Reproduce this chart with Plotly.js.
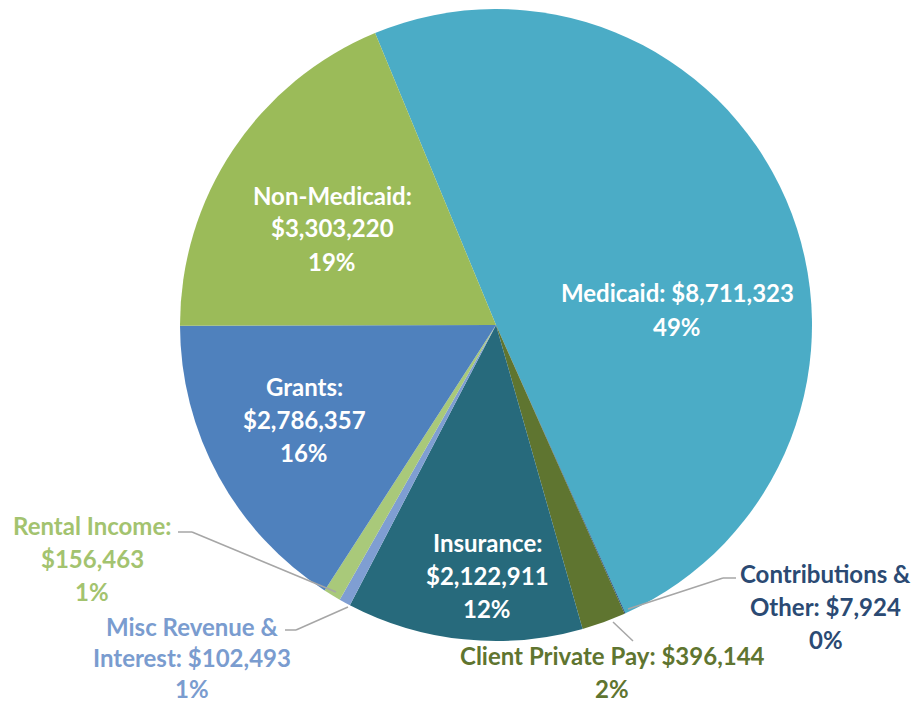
<!DOCTYPE html>
<html>
<head>
<meta charset="utf-8">
<script src="https://cdn.plot.ly/plotly-3.0.1.min.js"></script>
<style>html,body{margin:0;padding:0;background:#fff;}#chart{width:914px;height:705px;}</style>
</head>
<body>
<div id="chart"></div>
<script>
// ---- data ----
const categories = ['Medicaid', 'Contributions & Other', 'Client Private Pay', 'Insurance',
                    'Misc Revenue & Interest', 'Rental Income', 'Grants', 'Non-Medicaid'];
const values = [8711323, 7924, 396144, 2122911, 102493, 156463, 2786357, 3303220];
const percentLabels = ['49%', '0%', '2%', '12%', '1%', '1%', '16%', '19%'];

// ---- style ----
const sliceColors = ['#4BACC6', '#1F497D', '#5F7530', '#276A7C', '#7F9ED2', '#A9C97A', '#4F81BD', '#9BBB59'];
const textColors  = ['#FFFFFF', '#2B4A73', '#5F7530', '#FFFFFF', '#7A9CCF', '#A3C36F', '#FFFFFF', '#FFFFFF'];
// label line layout: 0 = "name: value" on one line, 1 = name and value on separate lines, 2 = break after "&"
const wrapMode = [0, 2, 0, 1, 2, 1, 1, 1];
// pixel centre of the first line of each label, and line spacing
const labelAnchor = [[677, 293], [826, 573], [612, 656], [487, 542], [192, 626], [92, 525], [304, 386], [332, 195]];
const labelGap = [33, 33, 32, 33, 31, 33, 33, 33];

const fmt = v => '$' + v.toLocaleString('en-US');
function lines(i) {
  const name = categories[i], val = fmt(values[i]);
  if (wrapMode[i] === 0) return [name + ': ' + val, percentLabels[i]];
  if (wrapMode[i] === 1) return [name + ':', val, percentLabels[i]];
  const k = name.indexOf('&') + 1;
  return [name.slice(0, k), name.slice(k).trim() + ': ' + val, percentLabels[i]];
}

const L = 180, T = 9, S = 632;
const px = x => (x - L) / S;
const py = y => (T + S - y) / S;

const annotations = [];
categories.forEach((c, i) => {
  lines(i).forEach((t, j) => {
    annotations.push({
      xref: 'paper', yref: 'paper',
      x: px(labelAnchor[i][0]), y: py(labelAnchor[i][1] + j * labelGap[i]),
      xanchor: 'center', yanchor: 'middle', borderpad: 0,
      text: '<b>' + t + '</b>', showarrow: false,
      font: {family: 'Lato, "Open Sans", sans-serif', size: 24, color: textColors[i]}
    });
  });
});

// leader lines (pixel paths)
const leaderPaths = [
  [[178, 532], [192, 532], [336, 592]],
  [[285, 630], [296, 630], [348, 607]],
  [[628, 609], [723, 578], [736, 578]],
  [[613, 622], [633, 641]]
];
const shapes = [];
leaderPaths.forEach(p => {
  for (let k = 0; k < p.length - 1; k++) {
    shapes.push({type: 'line', xref: 'paper', yref: 'paper',
      x0: px(p[k][0]), y0: py(p[k][1]), x1: px(p[k + 1][0]), y1: py(p[k + 1][1]),
      line: {color: '#A6A6A6', width: 1.5}});
  }
});

const trace = {
  type: 'pie',
  labels: categories,
  values: values,
  sort: false,
  direction: 'clockwise',
  rotation: -22.5,
  textinfo: 'none',
  hoverinfo: 'label+value+percent',
  marker: {colors: sliceColors, line: {width: 0}},
  showlegend: false
};

Plotly.newPlot('chart', [trace], {
  width: 914, height: 705,
  margin: {l: L, r: 914 - L - S, t: T, b: 705 - T - S},
  paper_bgcolor: '#FFFFFF',
  annotations: annotations,
  shapes: shapes,
  showlegend: false
}, {displayModeBar: false, staticPlot: true});
</script>
</body>
</html>
